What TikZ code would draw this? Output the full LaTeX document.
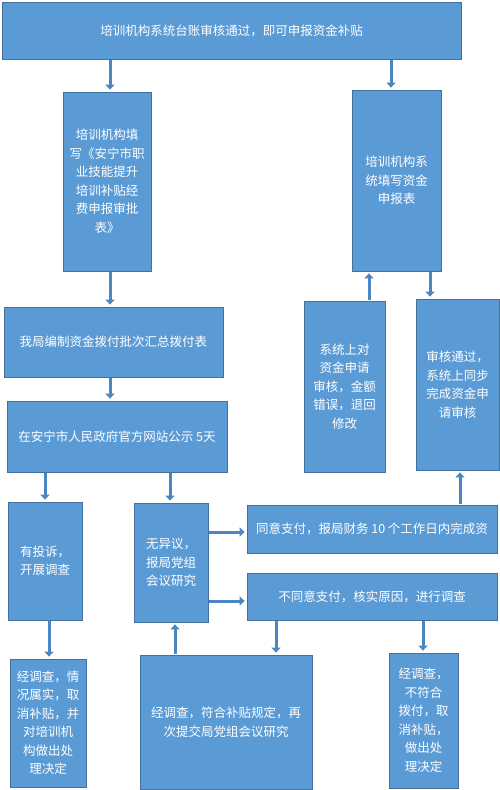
\documentclass[tikz,border=0pt]{standalone}
\usepackage{fontspec}
\newfontfamily\cjk{Noto Sans CJK SC}
\usepackage{tikz}
\usetikzlibrary{arrows.meta}
\definecolor{boxfill}{HTML}{5B9BD5}
\definecolor{boxedge}{HTML}{41719C}
\definecolor{flowblue}{HTML}{4A86C2}
\tikzset{
  stage/.style ={draw=boxedge, fill=boxfill, text=white, line width=0.8pt,
                 inner sep=0pt, align=center,
                 font=\cjk\fontsize{12.5}{18.5}\selectfont},
  % block arrows between the stages
  flow/.style  ={draw=flowblue, line width=3pt,
                 -{Triangle[length=5pt,width=9pt]},
                 shorten >=2pt, shorten <=1pt},
}
\begin{document}
\begin{tikzpicture}[x=1pt,y=-1pt]
\useasboundingbox (0,0) rectangle (500,790);
% upper part
\node[stage, minimum width=459pt, minimum height=57pt] (top) at (231.5,30.5)
  {培训机构系统台账审核通过，即可申报资金补贴};
\node[stage, minimum width=88pt, minimum height=179pt] (fill) at (107,181.5)
  {培训机构填\\写《安宁市职\\业技能提升\\培训补贴经\\费申报审批\\表》};
\node[stage, minimum width=89pt, minimum height=181pt] (sysfill) at (396.5,180.5)
  {培训机构系\\统填写资金\\申报表};
\node[stage, minimum width=219pt, minimum height=70pt] (summary) at (113.5,342)
  {我局编制资金拨付批次汇总拨付表};
\node[stage, minimum width=220pt, minimum height=71pt] (publish) at (117,436.5)
  {在安宁市人民政府官方网站公示 5天};
\node[stage, minimum width=81pt, minimum height=171pt] (reject) at (344.5,386.5)
  {系统上对\\资金申请\\审核，金额\\错误，退回\\修改};
\node[stage, minimum width=83pt, minimum height=171pt] (pass) at (457.5,384.5)
  {审核通过，\\系统上同步\\完成资金申\\请审核};
% middle row
\node[stage, minimum width=74pt, minimum height=118pt] (complaint) at (45,561)
  {有投诉，\\开展调查};
\node[stage, minimum width=74pt, minimum height=119pt] (noobj) at (171,562.5)
  {无异议，\\报局党组\\会议研究};
\node[stage, minimum width=250pt, minimum height=48pt] (agree) at (372,529)
  {同意支付，报局财务 10 个工作日内完成资};
\node[stage, minimum width=250pt, minimum height=47pt] (disagree) at (372,596.5)
  {不同意支付，核实原因，进行调查};
% lower row
\node[stage, minimum width=76pt, minimum height=128pt] (cancelA) at (48,723)
  {经调查，情\\况属实，取\\消补贴，并\\对培训机\\构做出处\\理决定};
\node[stage, minimum width=172pt, minimum height=134pt] (resubmit) at (226,722)
  {经调查，符合补贴规定，再\\次提交局党组会议研究};
\node[stage, minimum width=69pt, minimum height=135pt] (cancelB) at (423.5,720.5)
  {经调查，\\不符合\\拨付，取\\消补贴，\\做出处\\理决定};
% arrows
\foreach \a/\b/\x in {top/fill/110, top/sysfill/391, fill/summary/110,
    summary/publish/110, publish/complaint/45, publish/noobj/170,
    sysfill/pass/430, complaint/cancelA/49, disagree/resubmit/276,
    disagree/cancelB/423}
  {\draw[flow] (\a.south -| \x,0) -- (\b.north -| \x,0);}
\foreach \a/\b/\x in {agree/pass/460, reject/sysfill/369, resubmit/noobj/175}
  {\draw[flow] (\a.north -| \x,0) -- (\b.south -| \x,0);}
\foreach \b/\y in {agree/532, disagree/601}
  {\draw[flow] (noobj.east |- 0,\y) -- (\b.west |- 0,\y);}
\end{tikzpicture}
\end{document}
